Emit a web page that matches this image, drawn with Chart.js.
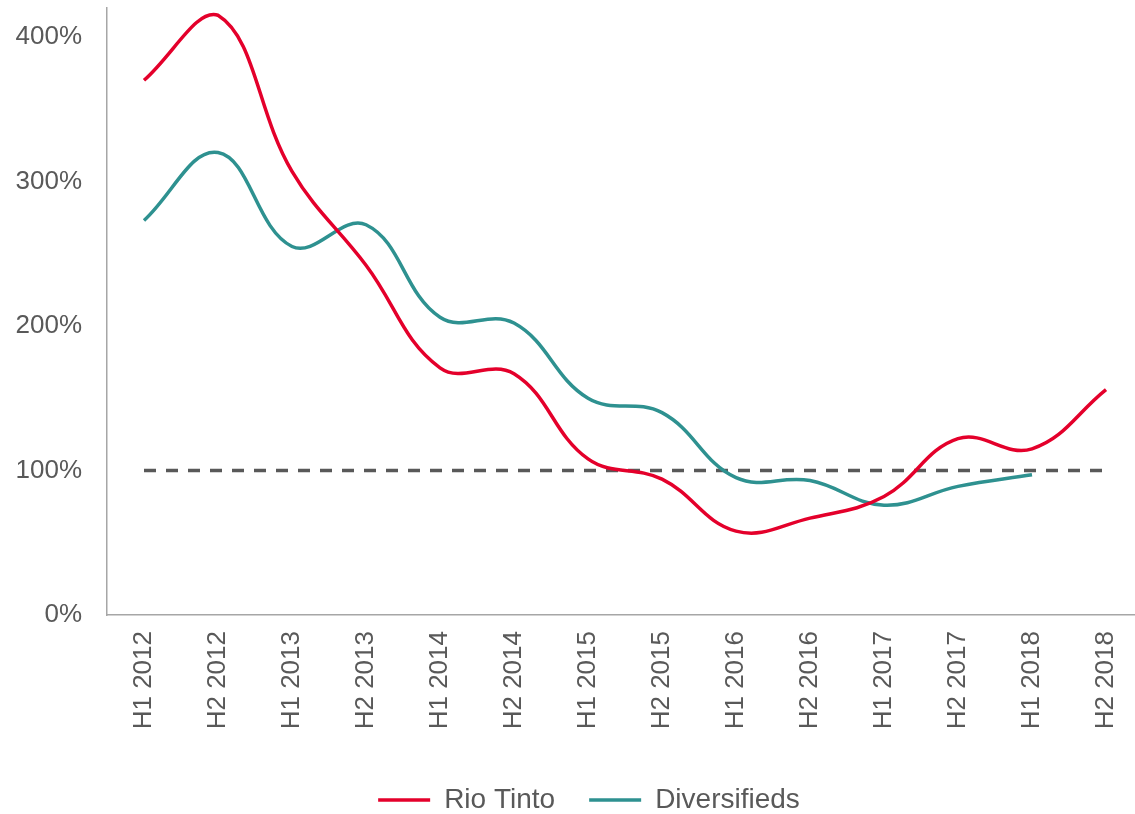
<!DOCTYPE html>
<html>
<head>
<meta charset="utf-8">
<script src="https://cdn.jsdelivr.net/npm/chart.js@4.4.1/dist/chart.umd.min.js"></script>
<style>
  html, body { margin: 0; padding: 0; background: #ffffff; overflow: hidden; }
  #frame { width: 1135px; height: 814px; overflow: hidden; position: relative; }
  #wrap { width: 1180px; height: 824px; position: absolute; left: 0; top: 0; }
</style>
</head>
<body>
<div id="frame"><div id="wrap"><canvas id="c"></canvas></div></div>
<script>
const categories = ["H1 2012","H2 2012","H1 2013","H2 2013","H1 2014","H2 2014","H1 2015","H2 2015","H1 2016","H2 2016","H1 2017","H2 2017","H1 2018","H2 2018"];
const rioTinto = [370, 415, 307, 242, 171, 167, 108, 94, 58, 67, 82, 122, 115, 156];
const diversifieds = [273, 320, 255, 270, 206, 202, 150, 140, 95, 93, 76, 89, 97, null];
const parityLine = [100, 100, 100, 100, 100, 100, 100, 100, 100, 100, 100, 100, 100, 100];
const yTicks = [0, 100, 200, 300, 400];

const textColor = '#595959';
const fontFamily = '"Liberation Sans", Arial, sans-serif';

const shiftLegend = {
  id: 'shiftLegend',
  afterLayout(chart) {
    if (chart.legend) { chart.legend.left += 35; }
  }
};

new Chart(document.getElementById('c'), {
  type: 'line',
  data: {
    labels: categories,
    datasets: [
      { label: 'Rio Tinto', data: rioTinto, borderColor: '#E4002B', backgroundColor: '#E4002B',
        borderWidth: 3.5, tension: 0.4, pointRadius: 0, fill: false, pointStyle: 'line' },
      { label: 'Diversifieds', data: diversifieds, borderColor: '#2E9190', backgroundColor: '#2E9190',
        borderWidth: 3.5, tension: 0.4, pointRadius: 0, fill: false, pointStyle: 'line' },
      { label: 'Parity', data: parityLine, borderColor: '#595959', borderWidth: 3.5,
        borderDash: [12, 10], tension: 0, pointRadius: 0, fill: false }
    ]
  },
  plugins: [shiftLegend],
  options: {
    responsive: true,
    maintainAspectRatio: false,
    animation: false,
    layout: { padding: { top: 8, left: 0, right: 37, bottom: 0 } },
    plugins: {
      tooltip: { enabled: false },
      legend: {
        position: 'bottom',
        labels: {
          usePointStyle: true,
          pointStyleWidth: 52,
          padding: 34,
          color: textColor,
          font: { family: fontFamily, size: 28 },
          filter: (item) => item.datasetIndex < 2
        }
      }
    },
    scales: {
      x: {
        offset: true,
        grid: { display: false, drawTicks: false },
        border: { display: true, color: '#A6A6A6', width: 1.5 },
        ticks: {
          autoSkip: false, minRotation: 90, maxRotation: 90, padding: 16,
          color: textColor, font: { family: fontFamily, size: 26 }
        },
        afterFit: (s) => { s.height = 137; s.paddingLeft = 0; s.paddingRight = 0; }
      },
      y: {
        min: 0, max: 420,
        grid: { display: false, drawTicks: false },
        border: { display: true, color: '#A6A6A6', width: 1.5 },
        afterBuildTicks: (s) => { s.ticks = yTicks.map(v => ({ value: v })); },
        ticks: {
          padding: 25, color: textColor, font: { family: fontFamily, size: 26 },
          callback: (v) => v + '%'
        },
        afterFit: (s) => { s.width = 107; s.paddingTop = 0; s.paddingBottom = 0; }
      }
    }
  }
});
</script>
</body>
</html>
